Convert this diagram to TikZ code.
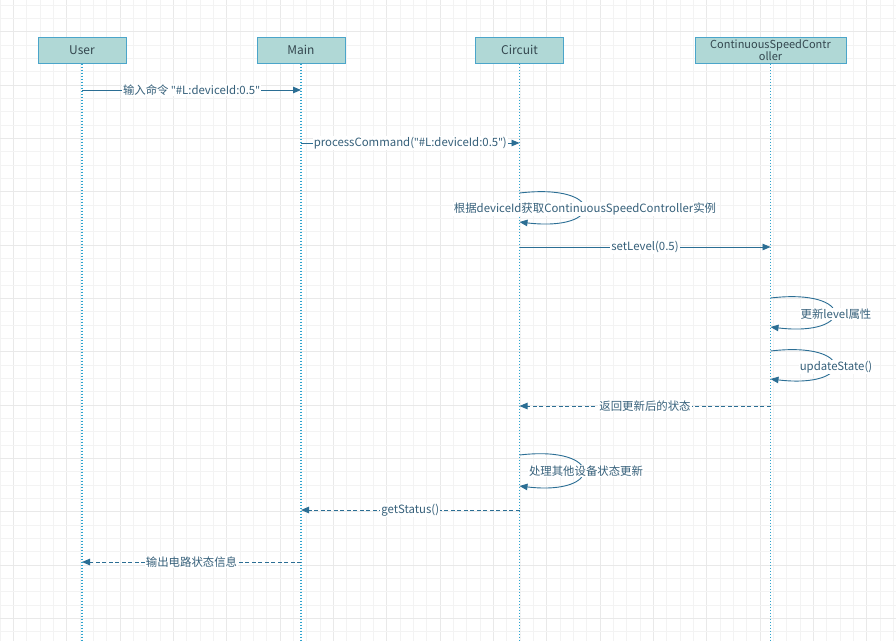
\documentclass[tikz,border=0pt]{standalone}
\usepackage{fontspec}
\setmainfont{Noto Sans CJK SC}
\newfontfamily\quotefont{Noto Sans}
\newcommand{\dq}{{\quotefont\char"0022}}
\usetikzlibrary{arrows.meta}
\definecolor{gridminor}{HTML}{F3F3F3}
\definecolor{gridmajor}{HTML}{E9E9E9}
\definecolor{boxfill}{HTML}{B0D8D6}
\definecolor{boxline}{HTML}{4BA5CA}
\definecolor{lifecol}{HTML}{2FA4CE}
\definecolor{msgcol}{HTML}{2B6E94}
\definecolor{txtcol}{HTML}{36607A}
\definecolor{boxtxt}{HTML}{34474F}
\tikzset{
  actor/.style={draw=boxline, fill=boxfill, line width=1pt, minimum height=26pt, inner sep=0pt,
    text=boxtxt, font=\fontsize{12}{12.5}\selectfont, align=center},
  lifeline/.style={draw=lifecol, line width=1.4pt, dash pattern=on 1.4pt off 1.6pt},
  msg/.style={draw=msgcol, line width=0.9pt, -{Triangle[length=8pt,width=6.5pt]}},
  ret/.style={msg, dash pattern=on 4pt off 2.5pt},
  lbl/.style={fill=white, text=txtcol, inner sep=1pt, font=\fontsize{11.4}{12.5}\selectfont},
}
\begin{document}
\begin{tikzpicture}[x=1pt,y=-1pt]
\useasboundingbox (0,0) rectangle (896,641);
\fill[white] (0,0) rectangle (896,641);
% grid
\foreach \k in {0,...,67} {
  \pgfmathsetmacro{\xx}{\k*13.3333}
  \pgfmathtruncatemacro{\m}{mod(\k,4)}
  \ifnum\m=1 \draw[gridmajor, line width=1pt] (\xx,0) -- (\xx,641);
  \else \draw[gridminor, line width=1pt] (\xx,0) -- (\xx,641); \fi
}
\foreach \k in {0,...,48} {
  \pgfmathsetmacro{\yy}{5+\k*13.3333}
  \pgfmathtruncatemacro{\m}{mod(\k,4)}
  \ifnum\m=2 \draw[gridmajor, line width=1pt] (0,\yy) -- (896,\yy);
  \else \draw[gridminor, line width=1pt] (0,\yy) -- (896,\yy); \fi
}
% actors
\node[actor, minimum width=88pt] (user) at (82,50) {User};
\node[actor, minimum width=88pt] (main) at (301,50) {Main};
\node[actor, minimum width=88pt] (circ) at (519.5,50) {Circuit};
\node[actor, minimum width=151pt, font=\fontsize{11}{12.5}\selectfont] (csc) at (770.5,50) {ContinuousSpeedContr\\oller};
% lifeline ends
\coordinate (userE) at (82,641);
\coordinate (mainE) at (301,641);
\coordinate (circE) at (519.5,641);
\coordinate (cscE) at (770.5,641);
\draw[lifeline] (user.south) -- (userE);
\draw[lifeline] (main.south) -- (mainE);
\draw[lifeline] (circ.south) -- (circE);
\draw[lifeline] (csc.south) -- (cscE);
% message points
\coordinate (u1) at (82,90);   \coordinate (m1) at (301,90);
\coordinate (m2) at (301,143); \coordinate (c2) at (519.5,143);
\coordinate (c3a) at (519.5,193); \coordinate (c3b) at (519.5,222);
\coordinate (c4) at (519.5,247); \coordinate (s4) at (770.5,247);
\coordinate (s5a) at (770.5,298); \coordinate (s5b) at (770.5,327);
\coordinate (s6a) at (770.5,351); \coordinate (s6b) at (770.5,379);
\coordinate (s7) at (770.5,406); \coordinate (c7) at (519.5,406);
\coordinate (c8a) at (519.5,455); \coordinate (c8b) at (519.5,486);
\coordinate (c9) at (519.5,510); \coordinate (m9) at (301,510);
\coordinate (m10) at (301,562); \coordinate (u10) at (82,562);
% messages
\draw[msg] (u1) -- (m1) node[lbl, pos=0.5] (l1) {输入命令 \dq\#L:deviceId:0.5\dq};
\draw[msg] (m2) -- (c2) node[lbl, pos=0.5] (l2) {processCommand(\dq\#L:deviceId:0.5\dq)};
\draw[msg] (c3a) .. controls (605,183) and (605,232) .. (c3b);
\node[lbl] (l3) at (585,209) {根据deviceId获取ContinuousSpeedController实例};
\draw[msg] (c4) -- (s4) node[lbl, pos=0.5] (l4) {setLevel(0.5)};
\draw[msg] (s5a) .. controls (855,288) and (855,337) .. (s5b);
\node[lbl] (l5) at (836,314) {更新level属性};
\draw[msg] (s6a) .. controls (855,341) and (855,389) .. (s6b);
\node[lbl] (l6) at (836,367) {updateState()};
\draw[ret] (s7) -- (c7) node[lbl, pos=0.5] (l7) {返回更新后的状态};
\draw[msg] (c8a) .. controls (604,445) and (604,496) .. (c8b);
\node[lbl] (l8) at (586,471) {处理其他设备状态更新};
\draw[ret] (c9) -- (m9) node[lbl, pos=0.5] (l9) {getStatus()};
\draw[ret] (m10) -- (u10) node[lbl, pos=0.5] (l10) {输出电路状态信息};
\end{tikzpicture}
\end{document}
